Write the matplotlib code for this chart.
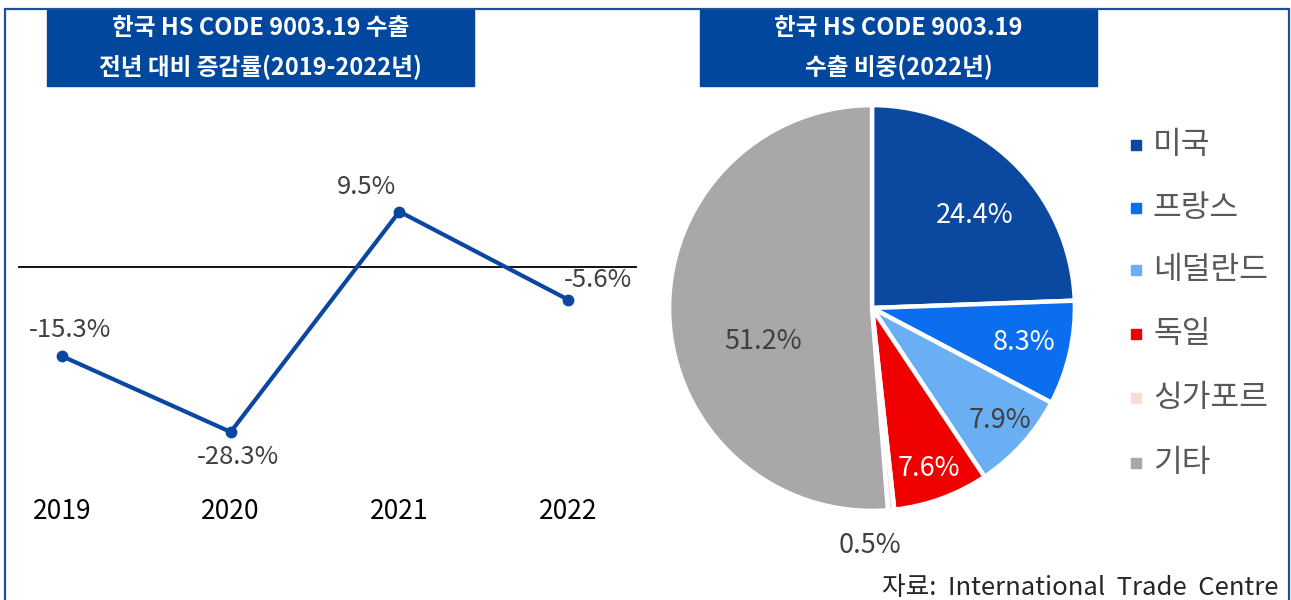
import matplotlib
matplotlib.use("Agg")
import matplotlib.pyplot as plt
from matplotlib.patches import Rectangle
import numpy as np

plt.rcParams["font.family"] = ["Noto Sans CJK KR", "DejaVu Sans"]

# ---- data ----
years = ["2019", "2020", "2021", "2022"]
growth = [-15.3, -28.3, 9.5, -5.6]

countries = ["미국", "프랑스", "네덜란드", "독일", "싱가포르", "기타"]
shares = [24.4, 8.3, 7.9, 7.6, 0.5, 51.2]
pie_colors = ["#0B48A0", "#0A6EEE", "#6AAEF4", "#F00000", "#F9DCD3", "#A9A7A7"]
label_colors = ["white", "white", "#404040", "white", "#404040", "#404040"]
label_r = [0.68, 0.77, 0.84, 0.84, 1.17, 0.56]
label_dtheta = [-4, 0, 0.5, -0.5, -6, 14.5]

# label offsets (pixels) for the line chart annotations
line_label_off = [(8, 26), (7, -25), (-33, 25), (30, 20)]

title_left = "한국 HS CODE 9003.19 수출\n전년 대비 증감률(2019-2022년)"
title_right = "한국 HS CODE 9003.19\n수출 비중(2022년)"
source = "자료:  International  Trade  Centre"

W, H = 1291, 600
fig = plt.figure(figsize=(W / 100, H / 100), dpi=100)


def px_axes(x0, y0, x1, y1, **kw):
    # pixel box (top-left origin) -> figure axes
    return fig.add_axes([x0 / W, 1 - y1 / H, (x1 - x0) / W, (y1 - y0) / H], **kw)


# ---- overlay for frame, titles, legend ----
ov = px_axes(0, 0, W, H)
ov.set_xlim(0, W)
ov.set_ylim(H, 0)
ov.axis("off")
ov.plot([5, 5, 1289, 1289], [H + 5, 9, 9, H + 5], color="#1F4E9C", lw=1.6,
        solid_joinstyle="miter", clip_on=False)

title_kw = dict(color="white", fontsize=17, fontweight="bold", ha="center",
                va="center", linespacing=1.75)
ov.add_patch(Rectangle((47, 10), 427, 76, color="#00479D"))
ov.text(260.5, 48, title_left, **title_kw)
ov.add_patch(Rectangle((700, 10), 397, 76, color="#00479D"))
ov.text(898.5, 48, title_right, **title_kw)

leg_y = [145, 208, 270, 334, 398, 463]
for name, col, y in zip(countries, pie_colors, leg_y):
    ov.add_patch(Rectangle((1131, y - 5), 10, 10, color=col))
    ov.text(1153, y, name, fontsize=22.5, color="#595959", va="center", ha="left")

ov.text(1278, 588, source, fontsize=18.5, color="#262626", ha="right", va="center")

# ---- line chart ----
ax = px_axes(18, 120, 637, 490)
x = np.arange(len(years))
ax.axhline(0, color="black", lw=1.3)
ax.plot(x, growth, color="#0B47A1", lw=3, marker="o", markersize=7.5)
ax.set_xlim(-0.261, 3.409)
ax.set_ylim(-38.25, 25.2)
for xi, v, off in zip(x, growth, line_label_off):
    ax.annotate(f"{v:.1f}%", (xi, v), xytext=off, textcoords="offset pixels",
                ha="center", va="center", fontsize=18.5, color="#404040")
ax.set_xticks(x)
ax.set_xticklabels(years, fontsize=19, color="black")
ax.tick_params(axis="x", length=0, pad=6)
ax.set_yticks([])
for s in ax.spines.values():
    s.set_visible(False)

# ---- pie chart ----
pa = px_axes(662, 98, 1082, 518)
wedges, _ = pa.pie(shares, colors=pie_colors, startangle=90, counterclock=False,
                   wedgeprops=dict(edgecolor="white", linewidth=3.2))
pa.set_xlim(-1.035, 1.035)
pa.set_ylim(-1.035, 1.035)
pa.set_aspect("equal")

cum = np.cumsum([0] + shares[:-1])
for i, (s, c0) in enumerate(zip(shares, cum)):
    mid = 90 - (c0 + s / 2) * 3.6 + label_dtheta[i]
    t = np.deg2rad(mid)
    pa.text(label_r[i] * np.cos(t), label_r[i] * np.sin(t), f"{s:.1f}%",
            ha="center", va="center", fontsize=19.5, color=label_colors[i],
            clip_on=False)

fig.savefig("out.png", dpi=100)
